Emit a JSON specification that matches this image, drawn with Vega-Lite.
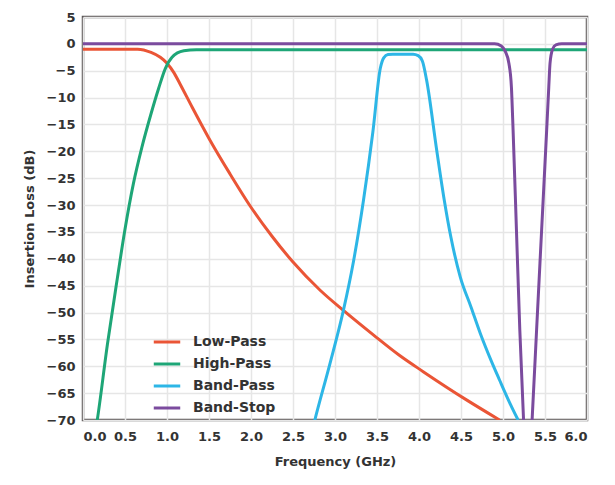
{
  "$schema": "https://vega.github.io/schema/vega-lite/v6.json",
  "autosize": "none",
  "padding": {"left": 83, "top": 17, "right": 28, "bottom": 65},
  "width": 504,
  "height": 403,
  "background": "white",
  "config": {
    "font": "DejaVu Sans",
    "view": {"stroke": "#5a5555", "strokeWidth": 2.5},
    "axis": {
      "labelFont": "DejaVu Sans", "labelFontWeight": "bold", "labelFontSize": 13, "labelColor": "#333333",
      "titleFont": "DejaVu Sans", "titleFontWeight": "bold", "titleFontSize": 13, "titleColor": "#333333",
      "gridColor": "#e6e6e6", "gridWidth": 1.5, "ticks": false, "domain": false
    }
  },
  "data": {"values": [
    {"f": 0.0, "loss": -1.0, "filter": "Low-Pass"},
    {"f": 0.65, "loss": -1.0, "filter": "Low-Pass"},
    {"f": 0.81, "loss": -1.6, "filter": "Low-Pass"},
    {"f": 0.92, "loss": -2.5, "filter": "Low-Pass"},
    {"f": 1.0, "loss": -3.6, "filter": "Low-Pass"},
    {"f": 1.08, "loss": -5.3, "filter": "Low-Pass"},
    {"f": 1.16, "loss": -7.6, "filter": "Low-Pass"},
    {"f": 1.3, "loss": -11.8, "filter": "Low-Pass"},
    {"f": 1.5, "loss": -17.6, "filter": "Low-Pass"},
    {"f": 1.75, "loss": -24.2, "filter": "Low-Pass"},
    {"f": 2.0, "loss": -30.4, "filter": "Low-Pass"},
    {"f": 2.25, "loss": -35.8, "filter": "Low-Pass"},
    {"f": 2.5, "loss": -40.6, "filter": "Low-Pass"},
    {"f": 2.82, "loss": -45.8, "filter": "Low-Pass"},
    {"f": 3.1, "loss": -49.6, "filter": "Low-Pass"},
    {"f": 3.46, "loss": -54.2, "filter": "Low-Pass"},
    {"f": 3.77, "loss": -58.0, "filter": "Low-Pass"},
    {"f": 4.05, "loss": -61.0, "filter": "Low-Pass"},
    {"f": 4.57, "loss": -66.3, "filter": "Low-Pass"},
    {"f": 4.96, "loss": -70.0, "filter": "Low-Pass"},

    {"f": 0.15, "loss": -72.0, "filter": "High-Pass"},
    {"f": 0.17, "loss": -70.0, "filter": "High-Pass"},
    {"f": 0.29, "loss": -56.0, "filter": "High-Pass"},
    {"f": 0.41, "loss": -43.5, "filter": "High-Pass"},
    {"f": 0.5, "loss": -34.5, "filter": "High-Pass"},
    {"f": 0.6, "loss": -26.0, "filter": "High-Pass"},
    {"f": 0.7, "loss": -19.3, "filter": "High-Pass"},
    {"f": 0.81, "loss": -13.0, "filter": "High-Pass"},
    {"f": 0.9, "loss": -8.3, "filter": "High-Pass"},
    {"f": 0.98, "loss": -4.6, "filter": "High-Pass"},
    {"f": 1.06, "loss": -2.5, "filter": "High-Pass"},
    {"f": 1.2, "loss": -1.3, "filter": "High-Pass"},
    {"f": 1.35, "loss": -1.1, "filter": "High-Pass"},
    {"f": 6.0, "loss": -1.1, "filter": "High-Pass"},

    {"f": 2.72, "loss": -72.5, "filter": "Band-Pass"},
    {"f": 2.76, "loss": -70.0, "filter": "Band-Pass"},
    {"f": 2.94, "loss": -59.5, "filter": "Band-Pass"},
    {"f": 3.1, "loss": -49.6, "filter": "Band-Pass"},
    {"f": 3.22, "loss": -40.5, "filter": "Band-Pass"},
    {"f": 3.34, "loss": -29.0, "filter": "Band-Pass"},
    {"f": 3.45, "loss": -16.5, "filter": "Band-Pass"},
    {"f": 3.54, "loss": -4.5, "filter": "Band-Pass"},
    {"f": 3.58, "loss": -2.6, "filter": "Band-Pass"},
    {"f": 3.63, "loss": -2.0, "filter": "Band-Pass"},
    {"f": 3.69, "loss": -1.95, "filter": "Band-Pass"},
    {"f": 3.93, "loss": -1.95, "filter": "Band-Pass"},
    {"f": 3.99, "loss": -2.2, "filter": "Band-Pass"},
    {"f": 4.04, "loss": -3.2, "filter": "Band-Pass"},
    {"f": 4.09, "loss": -6.7, "filter": "Band-Pass"},
    {"f": 4.21, "loss": -19.7, "filter": "Band-Pass"},
    {"f": 4.3, "loss": -29.0, "filter": "Band-Pass"},
    {"f": 4.38, "loss": -36.0, "filter": "Band-Pass"},
    {"f": 4.49, "loss": -43.3, "filter": "Band-Pass"},
    {"f": 4.62, "loss": -49.0, "filter": "Band-Pass"},
    {"f": 4.73, "loss": -53.9, "filter": "Band-Pass"},
    {"f": 4.86, "loss": -59.0, "filter": "Band-Pass"},
    {"f": 4.96, "loss": -62.6, "filter": "Band-Pass"},
    {"f": 5.08, "loss": -66.8, "filter": "Band-Pass"},
    {"f": 5.18, "loss": -70.0, "filter": "Band-Pass"},

    {"f": 0.0, "loss": 0.0, "filter": "Band-Stop"},
    {"f": 4.9, "loss": 0.0, "filter": "Band-Stop"},
    {"f": 4.98, "loss": -0.4, "filter": "Band-Stop"},
    {"f": 5.03, "loss": -1.5, "filter": "Band-Stop"},
    {"f": 5.07, "loss": -3.6, "filter": "Band-Stop"},
    {"f": 5.1, "loss": -8.0, "filter": "Band-Stop"},
    {"f": 5.12, "loss": -16.0, "filter": "Band-Stop"},
    {"f": 5.16, "loss": -34.6, "filter": "Band-Stop"},
    {"f": 5.2, "loss": -53.2, "filter": "Band-Stop"},
    {"f": 5.25, "loss": -72.0, "filter": "Band-Stop"},
    {"f": 5.295, "loss": -85.0, "filter": "Band-Stop"},
    {"f": 5.34, "loss": -72.0, "filter": "Band-Stop"},
    {"f": 5.4, "loss": -53.2, "filter": "Band-Stop"},
    {"f": 5.46, "loss": -34.6, "filter": "Band-Stop"},
    {"f": 5.52, "loss": -16.0, "filter": "Band-Stop"},
    {"f": 5.545, "loss": -8.0, "filter": "Band-Stop"},
    {"f": 5.56, "loss": -3.6, "filter": "Band-Stop"},
    {"f": 5.59, "loss": -1.0, "filter": "Band-Stop"},
    {"f": 5.63, "loss": -0.2, "filter": "Band-Stop"},
    {"f": 5.7, "loss": 0.0, "filter": "Band-Stop"},
    {"f": 6.0, "loss": 0.0, "filter": "Band-Stop"}
  ]},
  "mark": {"type": "line", "strokeWidth": 3, "clip": true, "interpolate": "monotone"},
  "encoding": {
    "x": {
      "field": "f", "type": "quantitative", "title": "Frequency (GHz)",
      "scale": {"domain": [0, 6], "nice": false},
      "axis": {"values": [0, 0.5, 1, 1.5, 2, 2.5, 3, 3.5, 4, 4.5, 5, 5.5, 6], "format": ".1f", "labelPadding": 10, "titlePadding": 12}
    },
    "y": {
      "field": "loss", "type": "quantitative", "title": "Insertion Loss (dB)",
      "scale": {"domain": [-70, 5], "nice": false, "zero": false},
      "axis": {"values": [5, 0, -5, -10, -15, -20, -25, -30, -35, -40, -45, -50, -55, -60, -65, -70], "labelPadding": 8, "titlePadding": 10}
    },
    "color": {
      "field": "filter", "type": "nominal",
      "scale": {"domain": ["Low-Pass", "High-Pass", "Band-Pass", "Band-Stop"], "range": ["#ea5536", "#1ea677", "#2db6e6", "#7b4b9e"]},
      "legend": {
        "title": null, "orient": "none", "legendX": 69, "legendY": 310,
        "symbolType": "stroke", "symbolSize": 700, "symbolStrokeWidth": 3,
        "labelFont": "DejaVu Sans", "labelFontWeight": "bold", "labelFontSize": 14, "labelColor": "#333333",
        "labelOffset": 11, "rowPadding": -2, "padding": 0
      }
    }
  }
}
